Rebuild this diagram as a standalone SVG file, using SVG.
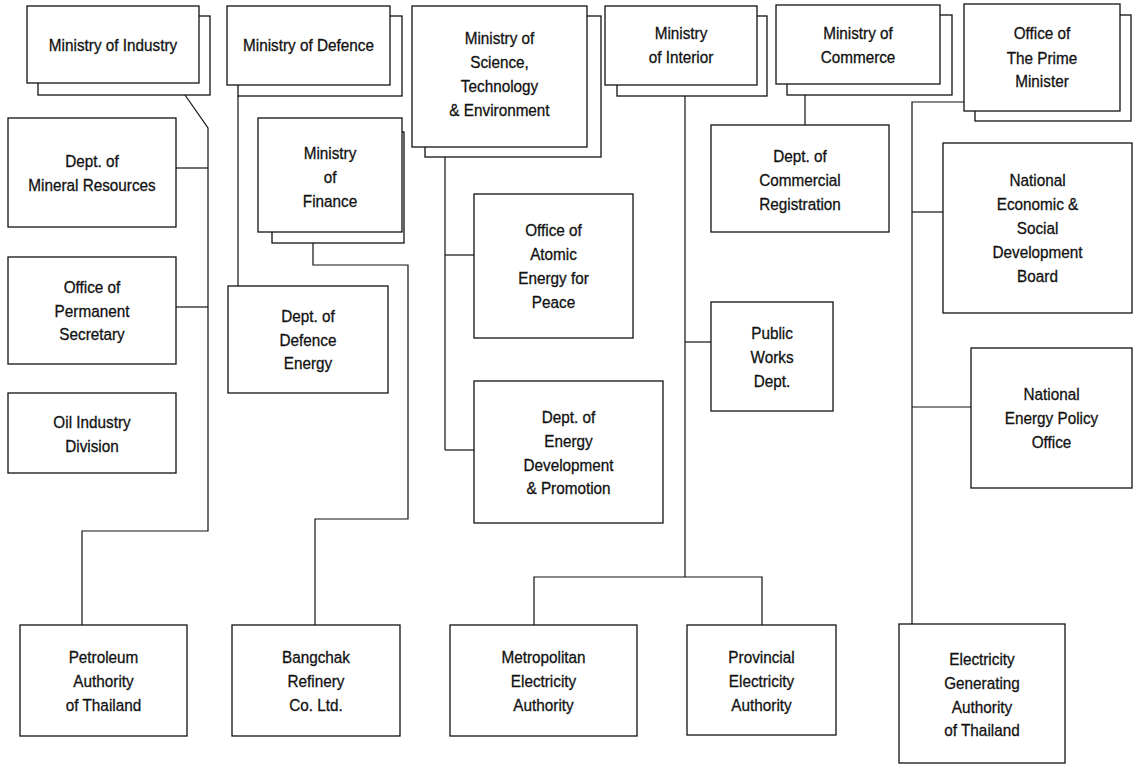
<svg xmlns="http://www.w3.org/2000/svg" width="1138" height="764" viewBox="0 0 1138 764">
<style>
.b{fill:#fff;stroke:#111;stroke-width:1.3}
.s{fill:#fff;stroke:#111;stroke-width:1.3}
.c{fill:none;stroke:#111;stroke-width:1.2}
text{font-family:"Liberation Sans",Arial,sans-serif;font-size:17px;fill:#111;stroke:#111;stroke-width:0.3;text-anchor:middle}
</style>
<rect width="1138" height="764" fill="#fff"/>
<g id="connectors">
<polyline class="c" points="185,95 208,128 208,531 82,531 82,625"/>
<line class="c" x1="176" y1="168" x2="208" y2="168"/>
<line class="c" x1="176" y1="307" x2="208" y2="307"/>
<line class="c" x1="238" y1="96" x2="238" y2="286"/>
<polyline class="c" points="313,243 313,265 408,265 408,519 315,519 315,625"/>
<line class="c" x1="445" y1="157" x2="445" y2="450"/>
<line class="c" x1="445" y1="255" x2="474" y2="255"/>
<line class="c" x1="445" y1="450" x2="474" y2="450"/>
<line class="c" x1="685" y1="96" x2="685" y2="577"/>
<polyline class="c" points="534,625 534,577 762,577 762,625"/>
<line class="c" x1="685" y1="342" x2="711" y2="342"/>
<line class="c" x1="805" y1="95" x2="805" y2="125"/>
<polyline class="c" points="964,102 912,102 912,624"/>
<line class="c" x1="912" y1="212" x2="943" y2="212"/>
<line class="c" x1="912" y1="407" x2="971" y2="407"/>
</g>
<g id="industry">
<rect class="s" x="38" y="16" width="172" height="79"/>
<rect class="b" x="27" y="6" width="172" height="77"/>
<text transform="translate(113 0) scale(0.9 1)"><tspan x="0" y="51">Ministry of Industry</tspan></text>
</g>
<g id="defence">
<rect class="s" x="238" y="16" width="164" height="80"/>
<rect class="b" x="227" y="6" width="163" height="79"/>
<text transform="translate(308.5 0) scale(0.9 1)"><tspan x="0" y="51">Ministry of Defence</tspan></text>
</g>
<g id="science">
<rect class="s" x="425" y="16" width="176" height="141"/>
<rect class="b" x="412" y="6" width="175" height="141"/>
<text transform="translate(499.5 0) scale(0.9 1)"><tspan x="0" y="44">Ministry of</tspan><tspan x="0" y="68">Science,</tspan><tspan x="0" y="92">Technology</tspan><tspan x="0" y="116">&amp; Environment</tspan></text>
</g>
<g id="interior">
<rect class="s" x="617" y="16" width="150" height="80"/>
<rect class="b" x="605" y="6" width="152" height="79"/>
<text transform="translate(681 0) scale(0.9 1)"><tspan x="0" y="39">Ministry</tspan><tspan x="0" y="63">of Interior</tspan></text>
</g>
<g id="commerce">
<rect class="s" x="787" y="15" width="165" height="80"/>
<rect class="b" x="776" y="5" width="164" height="79"/>
<text transform="translate(858 0) scale(0.9 1)"><tspan x="0" y="39">Ministry of</tspan><tspan x="0" y="63">Commerce</tspan></text>
</g>
<g id="primeminister">
<rect class="s" x="975" y="15" width="156" height="106"/>
<rect class="b" x="964" y="4" width="156" height="107"/>
<text transform="translate(1042 0) scale(0.9 1)"><tspan x="0" y="39">Office of</tspan><tspan x="0" y="64">The Prime</tspan><tspan x="0" y="87">Minister</tspan></text>
</g>
<g id="mineral">
<rect class="b" x="8" y="118" width="168" height="109"/>
<text transform="translate(92 0) scale(0.9 1)"><tspan x="0" y="167">Dept. of</tspan><tspan x="0" y="191">Mineral Resources</tspan></text>
</g>
<g id="permanent">
<rect class="b" x="8" y="257" width="168" height="107"/>
<text transform="translate(92 0) scale(0.9 1)"><tspan x="0" y="293">Office of</tspan><tspan x="0" y="317">Permanent</tspan><tspan x="0" y="340">Secretary</tspan></text>
</g>
<g id="oil">
<rect class="b" x="8" y="393" width="168" height="80"/>
<text transform="translate(92 0) scale(0.9 1)"><tspan x="0" y="428">Oil Industry</tspan><tspan x="0" y="452">Division</tspan></text>
</g>
<g id="finance">
<rect class="s" x="272" y="132" width="132" height="111"/>
<rect class="b" x="258" y="118" width="144" height="114"/>
<text transform="translate(330 0) scale(0.9 1)"><tspan x="0" y="159">Ministry</tspan><tspan x="0" y="183">of</tspan><tspan x="0" y="207">Finance</tspan></text>
</g>
<g id="defenceenergy">
<rect class="b" x="228" y="286" width="160" height="107"/>
<text transform="translate(308 0) scale(0.9 1)"><tspan x="0" y="322">Dept. of</tspan><tspan x="0" y="346">Defence</tspan><tspan x="0" y="369">Energy</tspan></text>
</g>
<g id="atomic">
<rect class="b" x="474" y="194" width="159" height="144"/>
<text transform="translate(553.5 0) scale(0.9 1)"><tspan x="0" y="236">Office of</tspan><tspan x="0" y="260">Atomic</tspan><tspan x="0" y="284">Energy for</tspan><tspan x="0" y="308">Peace</tspan></text>
</g>
<g id="energydev">
<rect class="b" x="474" y="381" width="189" height="142"/>
<text transform="translate(568.5 0) scale(0.9 1)"><tspan x="0" y="423">Dept. of</tspan><tspan x="0" y="447">Energy</tspan><tspan x="0" y="471">Development</tspan><tspan x="0" y="494">&amp; Promotion</tspan></text>
</g>
<g id="commercial">
<rect class="b" x="711" y="125" width="178" height="107"/>
<text transform="translate(800 0) scale(0.9 1)"><tspan x="0" y="162">Dept. of</tspan><tspan x="0" y="186">Commercial</tspan><tspan x="0" y="210">Registration</tspan></text>
</g>
<g id="publicworks">
<rect class="b" x="711" y="302" width="122" height="109"/>
<text transform="translate(772 0) scale(0.9 1)"><tspan x="0" y="339">Public</tspan><tspan x="0" y="363">Works</tspan><tspan x="0" y="387">Dept.</tspan></text>
</g>
<g id="nesdb">
<rect class="b" x="943" y="143" width="189" height="170"/>
<text transform="translate(1037.5 0) scale(0.9 1)"><tspan x="0" y="186">National</tspan><tspan x="0" y="210">Economic &amp;</tspan><tspan x="0" y="234">Social</tspan><tspan x="0" y="258">Development</tspan><tspan x="0" y="282">Board</tspan></text>
</g>
<g id="nepo">
<rect class="b" x="971" y="348" width="161" height="140"/>
<text transform="translate(1051.5 0) scale(0.9 1)"><tspan x="0" y="400">National</tspan><tspan x="0" y="424">Energy Policy</tspan><tspan x="0" y="448">Office</tspan></text>
</g>
<g id="petroleum">
<rect class="b" x="20" y="625" width="167" height="111"/>
<text transform="translate(103.5 0) scale(0.9 1)"><tspan x="0" y="663">Petroleum</tspan><tspan x="0" y="687">Authority</tspan><tspan x="0" y="711">of Thailand</tspan></text>
</g>
<g id="bangchak">
<rect class="b" x="232" y="625" width="168" height="111"/>
<text transform="translate(316 0) scale(0.9 1)"><tspan x="0" y="663">Bangchak</tspan><tspan x="0" y="687">Refinery</tspan><tspan x="0" y="711">Co. Ltd.</tspan></text>
</g>
<g id="metropolitan">
<rect class="b" x="450" y="625" width="187" height="111"/>
<text transform="translate(543.5 0) scale(0.9 1)"><tspan x="0" y="663">Metropolitan</tspan><tspan x="0" y="687">Electricity</tspan><tspan x="0" y="711">Authority</tspan></text>
</g>
<g id="provincial">
<rect class="b" x="687" y="625" width="149" height="110"/>
<text transform="translate(761.5 0) scale(0.9 1)"><tspan x="0" y="663">Provincial</tspan><tspan x="0" y="687">Electricity</tspan><tspan x="0" y="711">Authority</tspan></text>
</g>
<g id="egat">
<rect class="b" x="899" y="624" width="166" height="139"/>
<text transform="translate(982 0) scale(0.9 1)"><tspan x="0" y="665">Electricity</tspan><tspan x="0" y="689">Generating</tspan><tspan x="0" y="713">Authority</tspan><tspan x="0" y="736">of Thailand</tspan></text>
</g>
</svg>
